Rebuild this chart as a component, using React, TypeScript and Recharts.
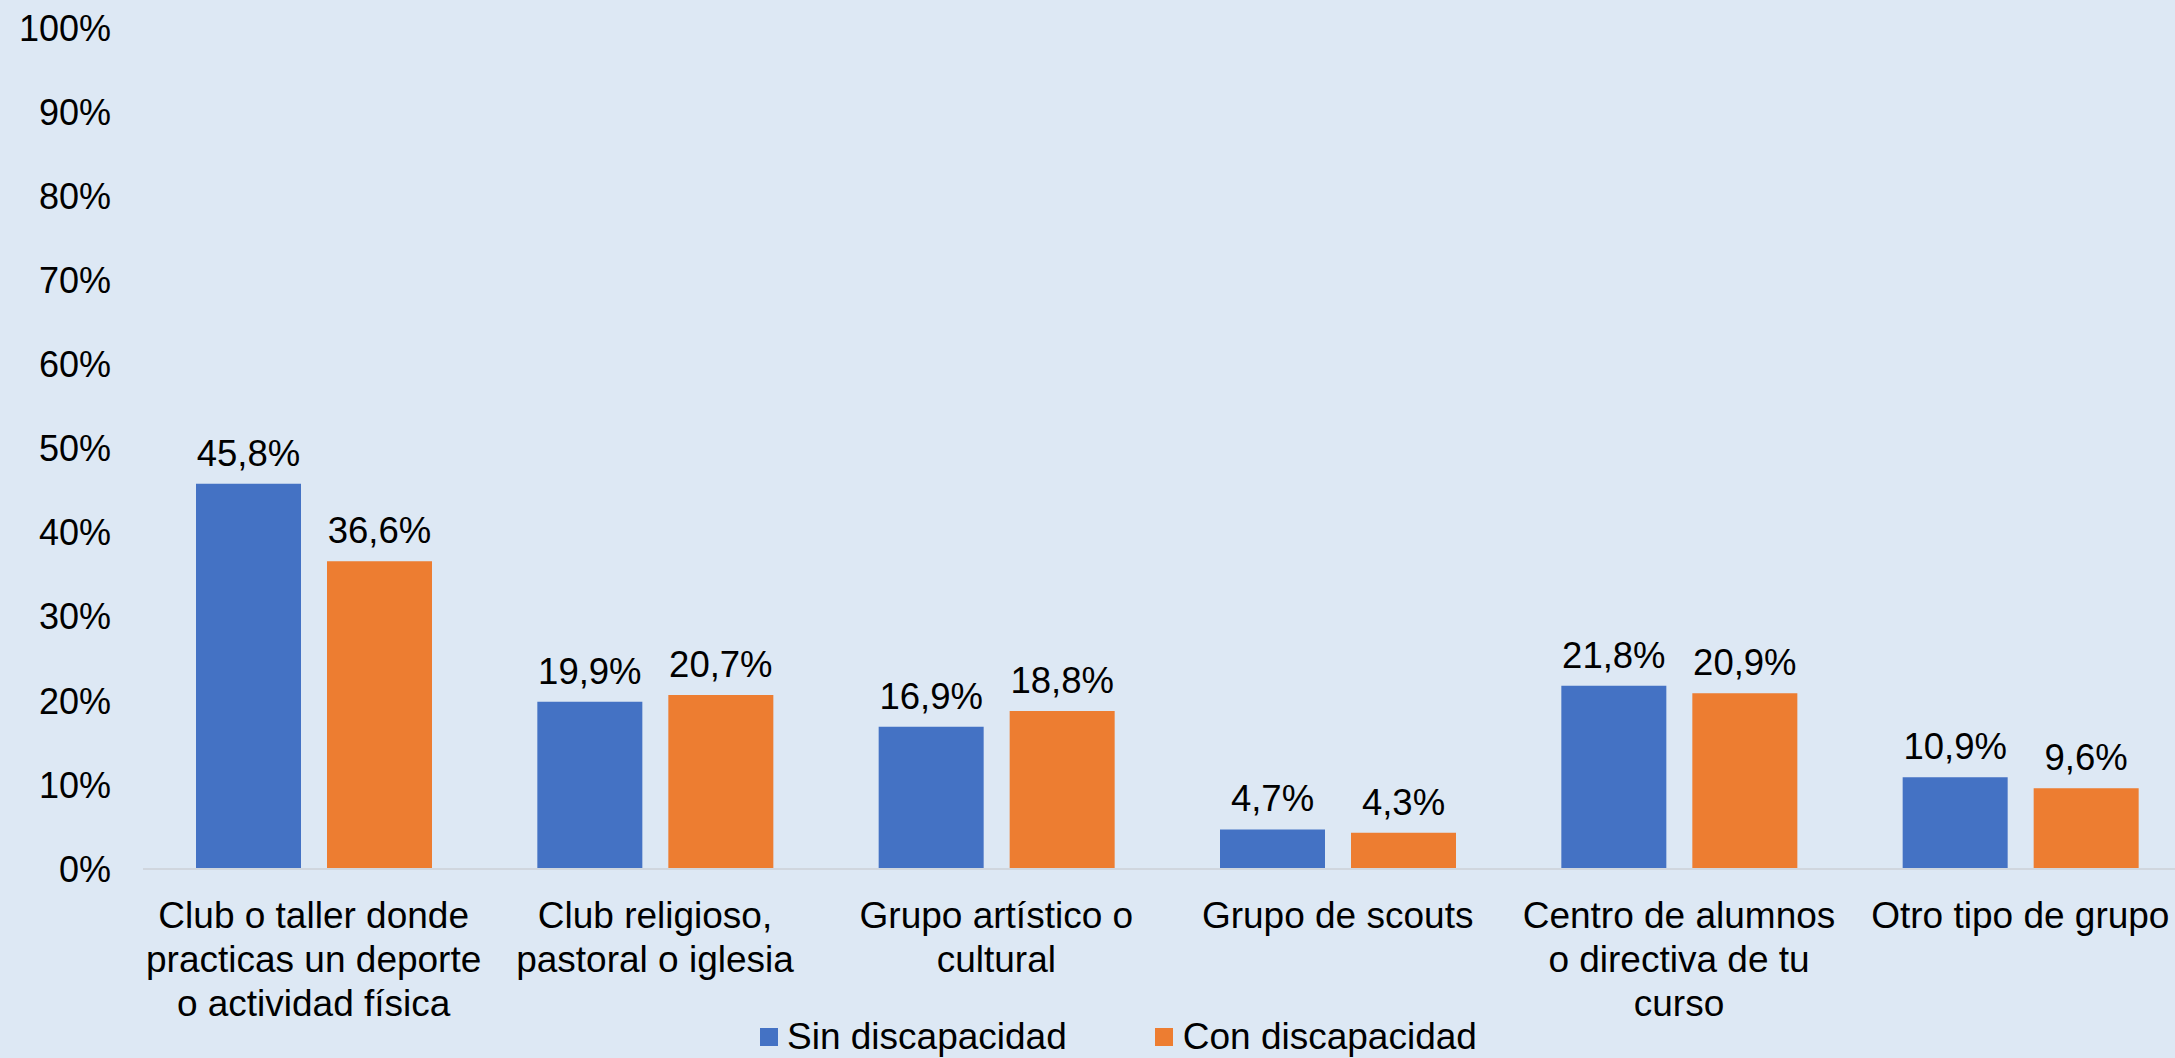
import React from 'react';
import { BarChart, Bar, XAxis, YAxis, Legend, LabelList } from 'recharts';

const categories = [
  'Club o taller donde|practicas un deporte|o actividad física',
  'Club religioso,|pastoral o iglesia',
  'Grupo artístico o|cultural',
  'Grupo de scouts',
  'Centro de alumnos|o directiva de tu|curso',
  'Otro tipo de grupo',
];
const sinDiscapacidad = [45.8, 19.9, 16.9, 4.7, 21.8, 10.9];
const conDiscapacidad = [36.6, 20.7, 18.8, 4.3, 20.9, 9.6];
const yTicks = [0, 10, 20, 30, 40, 50, 60, 70, 80, 90, 100];

const BG = '#DDE8F4';
const BLUE = '#4472C4';
const ORANGE = '#ED7D31';
const FONT = '"Liberation Sans", Arial, sans-serif';

const data = categories.map((name, i) => ({
  name,
  sin: sinDiscapacidad[i],
  con: conDiscapacidad[i],
}));

const fmt = (v: number) => v.toFixed(1).replace('.', ',') + '%';

// category labels are split on "|" into lines
const CategoryTick = ({ x, y, payload }: any) => {
  const lines = String(payload.value).split('|');
  return (
    <g>
      {lines.map((line, i) => (
        <text key={i} x={x} y={y + 59 + i * 44} textAnchor="middle" fill="#000" fontSize={37} fontFamily={FONT}>
          {line}
        </text>
      ))}
    </g>
  );
};

const ValueLabel = ({ x, y, width, value }: any) => (
  <text x={x + width / 2} y={y - 18} textAnchor="middle" fill="#000" fontSize={36.5} fontFamily={FONT}>
    {fmt(value)}
  </text>
);

const LegendContent = () => (
  <div style={{ display: 'flex', alignItems: 'center', fontFamily: FONT, fontSize: 37, color: '#000', lineHeight: '44px', whiteSpace: 'nowrap' }}>
    <span style={{ width: 18, height: 18, background: BLUE, display: 'inline-block', marginRight: 9 }} />
    <span>Sin discapacidad</span>
    <span style={{ width: 18, height: 18, background: ORANGE, display: 'inline-block', marginLeft: 88, marginRight: 10 }} />
    <span>Con discapacidad</span>
  </div>
);

export default function App() {
  return (
    <div style={{ position: 'fixed', left: 0, top: 0, width: 2175, height: 1058, overflow: 'hidden', background: BG }}>
      <BarChart
        width={2200}
        height={1058}
        data={data}
        margin={{ top: 28, right: 9, left: 0, bottom: 49 }}
        barSize={105}
        barGap={26}
      >
        <XAxis
          dataKey="name"
          interval={0}
          height={140}
          tickSize={0}
          tickMargin={0}
          tick={<CategoryTick />}
          axisLine={{ stroke: '#D0D6DE', strokeWidth: 2 }}
        />
        <YAxis
          domain={[0, 100]}
          ticks={yTicks}
          width={143}
          axisLine={false}
          tickLine={false}
          tickSize={0}
          tickMargin={32}
          tickFormatter={(v) => `${v}%`}
          tick={{ fontSize: 36, fill: '#000', fontFamily: FONT }}
        />
        <Legend
          layout="horizontal"
          verticalAlign="middle"
          align="center"
          content={<LegendContent />}
          wrapperStyle={{ top: 1015, left: 760, width: 'auto' }}
        />
        <Bar dataKey="sin" name="Sin discapacidad" fill={BLUE} isAnimationActive={false}>
          <LabelList dataKey="sin" content={<ValueLabel />} />
        </Bar>
        <Bar dataKey="con" name="Con discapacidad" fill={ORANGE} isAnimationActive={false}>
          <LabelList dataKey="con" content={<ValueLabel />} />
        </Bar>
      </BarChart>
    </div>
  );
}
